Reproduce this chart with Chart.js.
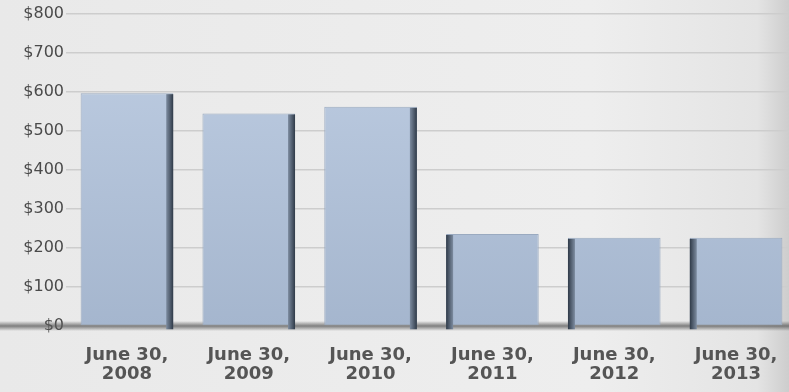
<!DOCTYPE html>
<html>
<head>
<meta charset="utf-8">
<script src="https://cdn.jsdelivr.net/npm/chart.js@4/dist/chart.umd.min.js"></script>
<style>
  html, body { margin: 0; padding: 0; background: #ebebeb; overflow: hidden; }
  #wrap { position: relative; width: 797px; height: 392px; }
</style>
</head>
<body>
<div id="wrap"><canvas id="chart"></canvas></div>
<script>
// Data
const categories = [['June 30,', '2008'], ['June 30,', '2009'], ['June 30,', '2010'],
                    ['June 30,', '2011'], ['June 30,', '2012'], ['June 30,', '2013']];
const values = [597, 545, 562, 236, 226, 226];
const yTicks = [0, 100, 200, 300, 400, 500, 600, 700, 800];

// page background with darker right edge, plus the shadow band along $0
const backdrop = {
  id: 'backdrop',
  beforeDraw(chart) {
    const { ctx, height } = chart;
    const w = 789;
    const g = ctx.createLinearGradient(0, 0, w, 0);
    g.addColorStop(0, '#e9e9e9');
    g.addColorStop(0.75, '#eeeeee');
    g.addColorStop(0.96, '#e4e4e4');
    g.addColorStop(1, '#cdcdcd');
    ctx.save();
    ctx.fillStyle = g;
    ctx.fillRect(0, 0, chart.width, height);
    ctx.restore();
  },
  beforeDatasetsDraw(chart) {
    const { ctx } = chart;
    const y0 = chart.scales.y.getPixelForValue(0);
    const g = ctx.createLinearGradient(0, y0 - 5, 0, y0 + 5);
    g.addColorStop(0, 'rgba(90,90,90,0)');
    g.addColorStop(0.5, 'rgba(90,90,90,0.75)');
    g.addColorStop(1, 'rgba(90,90,90,0)');
    ctx.save();
    ctx.fillStyle = g;
    ctx.fillRect(0, y0 - 5, chart.width, 10);
    ctx.restore();
  }
};

// dark side face on each bar for the 3D look
const barSides = {
  id: 'barSides',
  afterDatasetsDraw(chart) {
    const { ctx } = chart;
    const meta = chart.getDatasetMeta(0);
    ctx.save();
    meta.data.forEach((bar, i) => {
      const w = bar.width;
      const left = bar.x - w / 2;
      const right = bar.x + w / 2;
      const side = 7;
      const sx = i < 3 ? right - side : left;
      const g = ctx.createLinearGradient(sx, 0, sx + side, 0);
      if (i < 3) { g.addColorStop(0, '#7d8ca0'); g.addColorStop(1, '#2f3a48'); }
      else { g.addColorStop(0, '#2f3a48'); g.addColorStop(1, '#7d8ca0'); }
      ctx.fillStyle = g;
      ctx.fillRect(sx, bar.y + 1, side, bar.base - bar.y + 3);
    });
    ctx.restore();
  }
};

function barFill(context) {
  const chart = context.chart;
  const area = chart.chartArea;
  if (!area) return '#aebfd6';
  const g = chart.ctx.createLinearGradient(0, area.top, 0, area.bottom);
  g.addColorStop(0, '#bfcee3');
  g.addColorStop(1, '#a5b6ce');
  return g;
}

new Chart(document.getElementById('chart'), {
  type: 'bar',
  data: {
    labels: categories,
    datasets: [{
      data: values,
      backgroundColor: barFill,
      borderColor: '#9aaac0',
      borderWidth: 1,
      borderSkipped: false,
      barPercentage: 0.76,
      categoryPercentage: 1
    }]
  },
  options: {
    responsive: true,
    maintainAspectRatio: false,
    animation: false,
    layout: { padding: { top: 14, right: 0, left: 21, bottom: 0 } },
    plugins: { legend: { display: false }, tooltip: { enabled: false } },
    scales: {
      x: {
        grid: { display: false },
        border: { display: false },
        afterFit(axis) { axis.height = 66; },
        ticks: {
          color: '#555555',
          font: { family: 'DejaVu Sans', size: 18, weight: 'bold', lineHeight: 1.05 },
          padding: 12,
          maxRotation: 0
        }
      },
      y: {
        min: 0,
        max: 800,
        afterBuildTicks(axis) { axis.ticks = yTicks.map(v => ({ value: v })); },
        afterFit(axis) { axis.width = 45; },
        border: { display: false },
        grid: {
          color: c => c.tick && c.tick.value === 0 ? 'rgba(0,0,0,0)' : '#cdcdcd',
          lineWidth: 1.5,
          drawTicks: false
        },
        ticks: {
          color: '#4a4a4a',
          font: { family: 'DejaVu Sans', size: 16 },
          padding: 2,
          callback: v => '$' + v
        }
      }
    }
  },
  plugins: [backdrop, barSides]
});
</script>
</body>
</html>
